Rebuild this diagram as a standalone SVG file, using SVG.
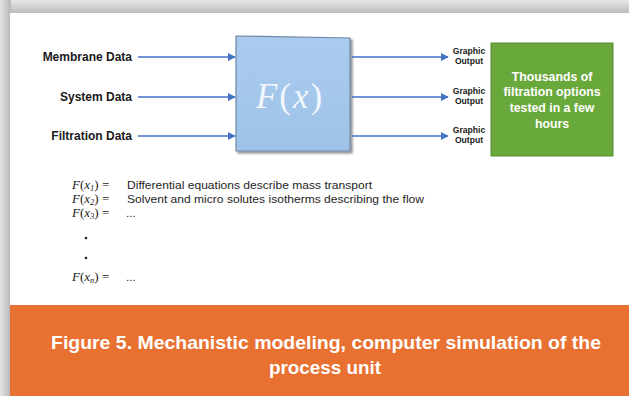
<svg xmlns="http://www.w3.org/2000/svg" width="629" height="396" viewBox="0 0 629 396">
  <defs>
    <linearGradient id="topBand" x1="0" y1="0" x2="0" y2="1">
      <stop offset="0" stop-color="#e6e7e9"/>
      <stop offset="1" stop-color="#b9babc"/>
    </linearGradient>
    <linearGradient id="leftBand" x1="0" y1="0" x2="1" y2="0">
      <stop offset="0" stop-color="#e2e3e5"/>
      <stop offset="1" stop-color="#b4b5b7"/>
    </linearGradient>
    <linearGradient id="boxFill" x1="0" y1="0" x2="0" y2="1">
      <stop offset="0" stop-color="#a9cbee"/>
      <stop offset="1" stop-color="#9fc3e8"/>
    </linearGradient>
    <filter id="shadow" x="-10%" y="-10%" width="130%" height="130%">
      <feGaussianBlur in="SourceAlpha" stdDeviation="1.2"/>
      <feOffset dx="1.5" dy="1.5" result="b"/>
      <feComponentTransfer><feFuncA type="linear" slope="0.45"/></feComponentTransfer>
      <feMerge><feMergeNode/><feMergeNode in="SourceGraphic"/></feMerge>
    </filter>
    <marker id="arrow" viewBox="0 0 10 10" refX="9" refY="5" markerWidth="5" markerHeight="5" orient="auto" markerUnits="strokeWidth">
      <path d="M0,0 L10,5 L0,10 z" fill="#4472c4"/>
    </marker>
  </defs>
  <style>
    .in { font-family: "Liberation Sans", Arial, sans-serif; font-weight: bold; font-size: 12px; fill: #1a1a1a; text-anchor: end; }
    .out { font-family: "Liberation Sans", Arial, sans-serif; font-weight: bold; font-size: 8.6px; fill: #1a1a1a; text-anchor: middle; }
    .green { font-family: "Liberation Sans", Arial, sans-serif; font-weight: bold; font-size: 12.3px; fill: #ffffff; text-anchor: middle; }
    .math { font-family: "Liberation Serif", "Times New Roman", serif; font-style: italic; font-size: 13px; fill: #222; }
    .up { font-style: normal; }
    .sub { font-size: 8.5px; }
    .eq { font-family: "Liberation Sans", Arial, sans-serif; font-size: 11.5px; fill: #1e1e1e; }
    .cap { font-family: "Liberation Sans", Arial, sans-serif; font-weight: bold; font-size: 19px; fill: #ffffff; text-anchor: middle; }
    .conn { stroke: #4472c4; stroke-width: 1.6; fill: none; marker-end: url(#arrow); }
  </style>

  <!-- page background bands -->
  <rect x="0" y="0" width="629" height="396" fill="#d4d5d7"/>
  <rect x="0" y="0" width="629" height="14" fill="url(#topBand)"/>
  <rect x="0" y="0" width="11" height="396" fill="url(#leftBand)"/>
  <rect x="10" y="13" width="619" height="293" fill="#ffffff"/>
  <rect x="10" y="305" width="619" height="91" fill="#e87132"/>

  <!-- input labels -->
  <g id="label-membrane"><text class="in" x="132" y="61">Membrane Data</text></g>
  <g id="label-system"><text class="in" x="132" y="101">System Data</text></g>
  <g id="label-filtration"><text class="in" x="132" y="140">Filtration Data</text></g>

  <!-- function block -->
  <g id="function-box">
    <polygon points="236,36 350,38 350,151 236,151" fill="url(#boxFill)" stroke="#6f88a8" stroke-width="1.2" filter="url(#shadow)"/>
    <text x="290" y="108" text-anchor="middle" font-family="'Liberation Serif', 'Times New Roman', serif" font-style="italic" font-size="35" letter-spacing="2" fill="#f2f7fd">F<tspan font-style="normal">(</tspan>x<tspan font-style="normal">)</tspan></text>
  </g>

  <!-- output labels -->
  <g id="output-1"><text class="out" x="469" y="54">Graphic</text><text class="out" x="469" y="64">Output</text></g>
  <g id="output-2"><text class="out" x="469" y="94">Graphic</text><text class="out" x="469" y="104">Output</text></g>
  <g id="output-3"><text class="out" x="469" y="133">Graphic</text><text class="out" x="469" y="143">Output</text></g>

  <!-- result block -->
  <g id="result-box">
    <rect x="491" y="43" width="122" height="113" fill="#69a83a" stroke="#5a8f33" stroke-width="1"/>
    <text class="green" x="552" y="80.5">Thousands of</text>
    <text class="green" x="552" y="96">filtration options</text>
    <text class="green" x="552" y="112">tested in a few</text>
    <text class="green" x="552" y="128">hours</text>
  </g>

  <!-- connectors -->
  <g id="connectors">
    <line class="conn" x1="138" y1="57" x2="235" y2="57"/>
    <line class="conn" x1="138" y1="97" x2="235" y2="97"/>
    <line class="conn" x1="138" y1="136" x2="235" y2="136"/>
    <line class="conn" x1="352" y1="57" x2="448" y2="57"/>
    <line class="conn" x1="352" y1="97" x2="448" y2="97"/>
    <line class="conn" x1="352" y1="136" x2="448" y2="136"/>
  </g>

  <!-- equation list -->
  <g id="equations">
    <text class="math" x="72" y="189">F<tspan class="up">(</tspan>x<tspan class="sub" dy="2">1</tspan><tspan class="up" dy="-2">) =</tspan></text>
    <text class="eq" x="127" y="189" textLength="245" lengthAdjust="spacingAndGlyphs">Differential equations describe mass transport</text>
    <text class="math" x="72" y="203">F<tspan class="up">(</tspan>x<tspan class="sub" dy="2">2</tspan><tspan class="up" dy="-2">) =</tspan></text>
    <text class="eq" x="127" y="203" textLength="297" lengthAdjust="spacingAndGlyphs">Solvent and micro solutes isotherms describing the flow</text>
    <text class="math" x="72" y="217">F<tspan class="up">(</tspan>x<tspan class="sub" dy="2">3</tspan><tspan class="up" dy="-2">) =</tspan></text>
    <text class="eq" x="126" y="217">...</text>
    <circle cx="86" cy="238" r="1.3" fill="#222"/>
    <circle cx="86" cy="258" r="1.3" fill="#222"/>
    <text class="math" x="72" y="281">F<tspan class="up">(</tspan>x<tspan class="sub" dy="2">n</tspan><tspan class="up" dy="-2">) =</tspan></text>
    <text class="eq" x="126" y="281">...</text>
  </g>

  <!-- caption -->
  <g id="caption">
    <text class="cap" x="326" y="349" textLength="550" lengthAdjust="spacingAndGlyphs">Figure 5. Mechanistic modeling, computer simulation of the</text>
    <text class="cap" x="325" y="374" textLength="112" lengthAdjust="spacingAndGlyphs">process unit</text>
  </g>
</svg>
